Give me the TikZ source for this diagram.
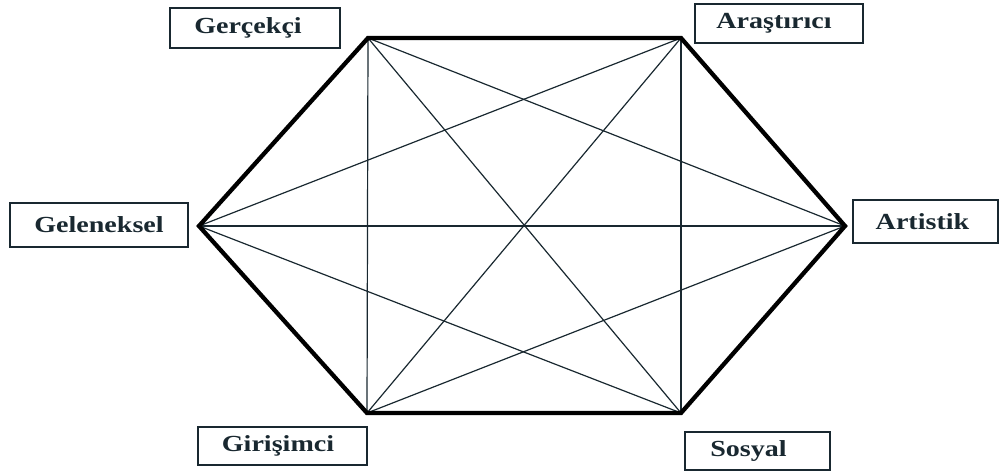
\documentclass[tikz,border=0pt]{standalone}
\usepackage{fontspec}
\setmainfont{Liberation Serif}
\definecolor{ink}{RGB}{25,40,48}
\newcommand{\lt}[2]{\hspace*{#1}\scalebox{1.22}[1]{#2}}
\begin{document}
\begin{tikzpicture}[x=1pt,y=-1pt,
  lbl/.style={draw=ink,line width=1.6pt,fill=white,inner sep=0pt,
    font=\fontsize{23}{25}\selectfont\bfseries,text=ink},
  edgethick/.style={line width=4.3pt,line join=miter,black},
  edgethin/.style={line width=1.2pt,ink}]
\useasboundingbox (0,0) rectangle (999,474);
\coordinate (TL) at (368,38);
\coordinate (TR) at (681,38);
\coordinate (L) at (199,226);
\coordinate (R) at (845,226);
\coordinate (BL) at (367,413);
\coordinate (BR) at (681,413);
% thin chords
\foreach \a/\b in {TL/BL,TR/BR,TL/BR,TL/R,TR/L,TR/BL,L/R,L/BR,R/BL}
  \draw[edgethin] (\a) -- (\b);
% thick hexagon
\draw[edgethick] (TL) -- (TR) -- (R) -- (BR) -- (BL) -- (L) -- cycle;
% labels
\node[lbl,minimum width=170pt,minimum height=40pt] (g) at (255,28) {\lt{-14pt}{Gerçekçi}};
\node[lbl,minimum width=168pt,minimum height=39pt] (a) at (779,23.5) {\lt{-10pt}{Araştırıcı}};
\node[lbl,minimum width=178pt,minimum height=44pt] (ge) at (99,225) {\lt{0pt}{Geleneksel}};
\node[lbl,minimum width=145pt,minimum height=43pt] (ar) at (925.5,221.5) {\lt{-6pt}{Artistik}};
\node[lbl,minimum width=169pt,minimum height=38pt] (gi) at (282.5,446) {\lt{-9pt}{Girişimci}};
\node[lbl,minimum width=145pt,minimum height=38pt] (s) at (757.5,451) {\lt{-18pt}{Sosyal}};
\end{tikzpicture}
\end{document}
